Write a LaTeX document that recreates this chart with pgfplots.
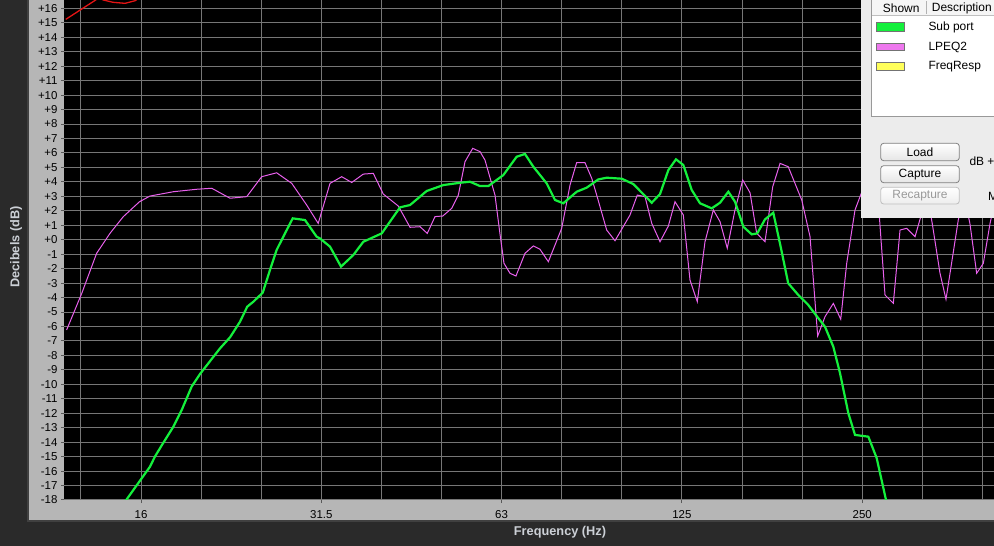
\documentclass[border=0pt]{standalone}
\usepackage{pgfplots}
\pgfplotsset{compat=1.18}
\usepackage{fontspec}
\setmainfont{Liberation Sans}
\usetikzlibrary{shadings}
\definecolor{bgdark}{RGB}{42,42,42}
\definecolor{panelgray}{RGB}{182,182,182}
\definecolor{gridc}{RGB}{118,118,118}
\definecolor{subgreen}{RGB}{20,240,60}
\definecolor{lpeq}{RGB}{232,96,236}
\definecolor{redc}{RGB}{228,20,20}
\definecolor{lgpanel}{RGB}{236,236,236}
\definecolor{labc}{RGB}{204,208,214}
\begin{document}
\begin{tikzpicture}
\path[use as bounding box] (0bp,0bp) rectangle (994bp,546bp);
\clip (0bp,0bp) rectangle (994bp,546bp);
\begin{scope}[x=1bp,y=1bp]
\fill[bgdark] (0,0) rectangle (994,546);
\fill[black!75] (27,24) rectangle (994,546);
\fill[panelgray] (29,26) rectangle (994,546);
\end{scope}
\begin{axis}[
  at={(64bp,46bp)}, anchor=south west,
  scale only axis, width=930bp, height=500bp,
  xmode=log,
  xmin=11.9, xmax=424.9, ymin=-18, ymax=16.58,
  axis background/.style={fill=black},
  axis line style={draw=none},
  xtick pos=bottom, ytick pos=left,
  xtick={16,32,64,128,256}, xticklabels={16,31.5,63,125,250},
  minor xtick={12.699,20.159,25.398,40.317,50.797,80.635,101.594,161.27,203.19,322.54,406.37},
  ytick={-18,-17,...,16},
  yticklabels={-18,-17,-16,-15,-14,-13,-12,-11,-10,-9,-8,-7,-6,-5,-4,-3,-2,-1,+0,+1,+2,+3,+4,+5,+6,+7,+8,+9,+10,+11,+12,+13,+14,+15,+16},
  grid=both,
  major grid style={gridc, line width=1bp},
  minor grid style={gridc, line width=1bp},
  tick align=outside, major tick length=3bp, minor tick length=0bp,
  tick style={black!65, line width=1bp},
  ticklabel style={font=\fontsize{11.5}{13}\selectfont, text=black},
  xticklabel style={yshift=-3.5bp},
  clip=true,
]
\addplot[redc, line width=1.3bp] coordinates {
(11.98,15.24) (13.44,16.58) (13.61,16.75) (13.84,16.58) (14.37,16.42) (15.05,16.35) (15.64,16.53) (15.91,16.75)
};
\addplot[lpeq, line width=1bp] coordinates {
(12.02,-6.24) (12.74,-3.71) (13.49,-0.94) (14.20,0.44) (14.95,1.60) (15.91,2.63) (16.56,3.02) (18.12,3.32)
(19.82,3.49) (21.00,3.56) (22.53,2.87) (24.02,2.98) (25.45,4.36) (26.95,4.63) (28.56,3.90) (30.25,2.40)
(31.62,1.13) (33.09,3.90) (34.61,4.36) (35.97,3.96) (37.61,4.54) (39.08,4.59) (40.61,3.16) (43.02,2.33)
(45.01,0.86) (46.77,0.90) (48.09,0.44) (49.54,1.60) (51.04,1.64) (52.83,2.17) (54.19,3.09) (55.60,5.40)
(57.27,6.32) (58.91,6.09) (60.04,5.51) (62.39,3.09) (63.58,0.44) (64.59,-1.63) (66.10,-2.32) (67.63,-2.51)
(70.02,-0.94) (72.30,-0.43) (74.18,-0.66) (76.60,-1.52) (80.63,0.79) (83.25,3.78) (85.41,5.33) (88.19,5.33)
(90.50,4.25) (92.24,3.09) (95.85,0.67) (98.97,-0.07) (104.85,1.71) (107.82,3.09) (111.07,2.98) (113.98,1.13)
(117.67,-0.14) (121.50,0.95) (124.65,2.63) (128.69,1.71) (132.04,-2.79) (135.79,-4.29) (139.87,-0.14) (144.43,2.06)
(148.20,1.25) (152.39,-0.59) (156.98,2.06) (161.71,4.13) (166.33,3.25) (170.64,0.44) (176.18,-0.14) (181.49,3.67)
(186.66,5.28) (192.64,5.05) (202.88,2.75) (209.47,0.21) (215.72,-6.66) (221.89,-5.32) (229.10,-4.40) (235.71,-5.50)
(241.18,-1.63) (249.01,2.06) (254.42,3.09) (264.83,5.0) (273.0,2.0) (279.45,-3.82) (288.52,-4.40) (296.06,0.67)
(303.74,0.79) (313.63,0.21) (321.82,1.83) (327.14,3.5) (334.87,1.2) (345.27,-2.32) (353.30,-4.12) (370.36,1.36)
(378.63,3.0) (387.33,1.13) (397.54,-2.32) (407.81,-1.63) (418.46,1.13) (428.18,3.0)
};
\addplot[subgreen, line width=2.2bp] coordinates {
(14.76,-18.6) (16.56,-15.7) (16.88,-15.0) (17.41,-14.08) (18.12,-12.93) (18.71,-11.78) (19.44,-10.16) (20.07,-9.29)
(21.68,-7.51) (22.53,-6.75) (23.41,-5.67) (24.07,-4.63) (24.64,-4.29) (25.55,-3.66) (26.27,-2.09) (26.95,-0.71)
(27.65,0.21) (28.67,1.48) (30.06,1.36) (31.43,0.21) (31.84,0.09) (33.09,-0.48) (34.52,-1.86) (36.19,-1.06)
(37.61,-0.14) (40.37,0.44) (43.31,2.24) (45.01,2.40) (47.98,3.37) (51.15,3.78) (54.55,3.94) (56.68,4.01)
(58.91,3.71) (60.82,3.71) (64.42,4.47) (67.81,5.74) (70.02,5.93) (72.30,5.05) (76.11,3.90) (78.58,2.75)
(81.13,2.52) (85.41,3.32) (88.76,3.60) (92.80,4.17) (95.85,4.29) (101.56,4.22) (106.19,3.85) (113.98,2.56)
(117.67,3.16) (121.50,4.82) (125.12,5.56) (128.69,5.17) (132.92,3.44) (137.23,2.52) (143.54,2.17) (148.20,2.56)
(153.01,3.32) (156.98,2.63) (162.09,0.90) (167.41,0.37) (171.02,0.44) (176.18,1.41) (181.90,1.87) (187.37,-0.6)
(192.64,-3.01) (200.20,-3.82) (208.04,-4.51) (212.15,-4.98) (221.89,-6.02) (229.10,-7.40) (235.08,-9.24) (242.70,-12.0)
(249.01,-13.5) (262.07,-13.62) (270.64,-15.1) (282.62,-18.6)
};
\end{axis}
\begin{scope}[x=1bp,y=1bp]
% axis titles
\node[text=labc, font=\bfseries\fontsize{12.8}{14}\selectfont] at (560,13.7) {Frequency (Hz)};
\node[text=labc, font=\bfseries\fontsize{12.8}{14}\selectfont, rotate=90] at (16,299) {Decibels (dB)};
% legend / control panel
\fill[lgpanel] (861,328) rectangle (994,546);
\fill[white] (871.7,429.3) rectangle (994,546);
\fill[black!4] (871.7,530.5) rectangle (994,546);
\draw[black!25, line width=0.8bp] (871.7,530.5) -- (994,530.5);
\draw[black!30, line width=0.8bp] (926.7,532) -- (926.7,545);
\draw[black!40, line width=1bp] (871.7,546) -- (871.7,429.3) -- (994,429.3);
\node[anchor=west, inner sep=0, font=\fontsize{12}{14}\selectfont] at (882.7,538) {Shown};
\node[anchor=west, inner sep=0, font=\fontsize{12}{14}\selectfont] at (931.7,538) {Description};
\filldraw[fill=subgreen, draw=black!55, line width=0.7bp] (876,515) rectangle (904,523.7);
\filldraw[fill={rgb,255:red,238;green,120;blue,238}, draw=black!55, line width=0.7bp] (876,495.3) rectangle (904,502.7);
\filldraw[fill={rgb,255:red,255;green,255;blue,90}, draw=black!55, line width=0.7bp] (876,475.3) rectangle (904,483.3);
\node[anchor=west, inner sep=0, font=\fontsize{12}{14}\selectfont] at (928.3,519) {Sub port};
\node[anchor=west, inner sep=0, font=\fontsize{12}{14}\selectfont] at (928.3,499) {LPEQ2};
\node[anchor=west, inner sep=0, font=\fontsize{12}{14}\selectfont] at (928.3,479) {FreqResp};
\shade[top color=white, bottom color=black!10, rounded corners=3bp] (880.7,385.3) rectangle (959.3,402.7);
\draw[black!50, rounded corners=3bp, line width=0.8bp] (880.7,385.3) rectangle (959.3,402.7);
\node[font=\fontsize{12}{14}\selectfont] at (920,394) {Load};
\shade[top color=white, bottom color=black!10, rounded corners=3bp] (880.7,363.3) rectangle (959.3,380.3);
\draw[black!50, rounded corners=3bp, line width=0.8bp] (880.7,363.3) rectangle (959.3,380.3);
\node[font=\fontsize{12}{14}\selectfont] at (920,371.8) {Capture};
\shade[top color=white, bottom color=black!7, rounded corners=3bp] (880.7,342) rectangle (959.3,358.7);
\draw[black!25, rounded corners=3bp, line width=0.8bp] (880.7,342) rectangle (959.3,358.7);
\node[text=black!40, font=\fontsize{12}{14}\selectfont] at (920,350.3) {Recapture};
\node[anchor=west, inner sep=0, font=\fontsize{12}{14}\selectfont] at (969.3,385) {dB +};
\node[anchor=west, inner sep=0, font=\fontsize{12}{14}\selectfont] at (988,350) {M};
\end{scope}
\end{tikzpicture}
\end{document}
